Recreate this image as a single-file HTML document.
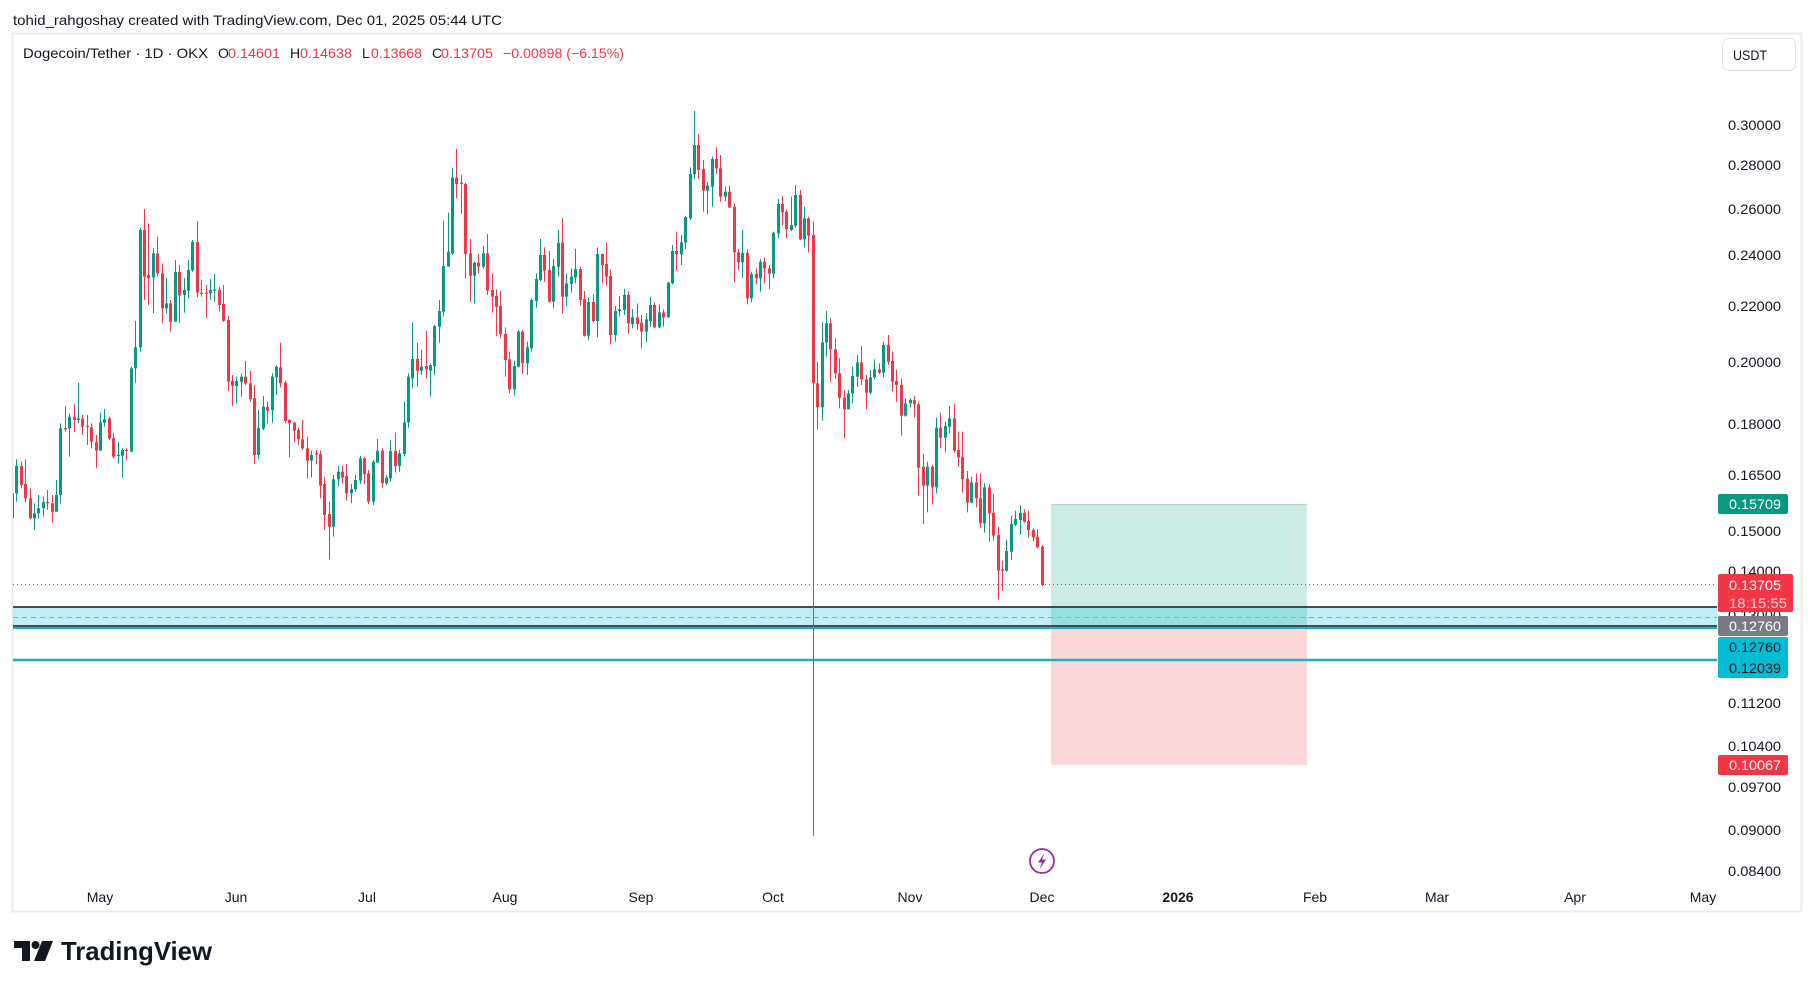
<!DOCTYPE html>
<html><head><meta charset="utf-8"><style>
html,body{margin:0;padding:0;background:#fff;}
svg{display:block;}
text{font-family:"Liberation Sans",Arial,sans-serif;}
</style></head><body>
<svg id="c" width="1815" height="989" viewBox="0 0 1815 989" xmlns="http://www.w3.org/2000/svg">
<defs>
<clipPath id="plot"><rect x="13" y="34" width="1704" height="877"/></clipPath>
<clipPath id="taxis"><rect x="13" y="870" width="1704" height="40"/></clipPath>
</defs>
<rect x="0" y="0" width="1815" height="989" fill="#fff"/>
<text x="13" y="25" font-size="14" fill="#131722" textLength="489" lengthAdjust="spacingAndGlyphs">tohid_rahgoshay created with TradingView.com, Dec 01, 2025 05:44 UTC</text>
<rect x="12.5" y="33.5" width="1789" height="878" fill="#fff" stroke="#ebebeb" stroke-width="2"/>

<!-- legend -->
<g font-size="14">
<text x="23" y="58" fill="#131722" textLength="185" lengthAdjust="spacingAndGlyphs">Dogecoin/Tether · 1D · OKX</text>
<text x="218" y="58" fill="#131722">O</text><text x="228" y="58" fill="#f23645" textLength="52" lengthAdjust="spacingAndGlyphs">0.14601</text>
<text x="290" y="58" fill="#131722">H</text><text x="300" y="58" fill="#f23645" textLength="52" lengthAdjust="spacingAndGlyphs">0.14638</text>
<text x="362" y="58" fill="#131722">L</text><text x="371" y="58" fill="#f23645" textLength="51" lengthAdjust="spacingAndGlyphs">0.13668</text>
<text x="432" y="58" fill="#131722">C</text><text x="441" y="58" fill="#f23645" textLength="52" lengthAdjust="spacingAndGlyphs">0.13705</text>
<text x="503" y="58" fill="#f23645" textLength="121" lengthAdjust="spacingAndGlyphs">−0.00898 (−6.15%)</text>
</g>

<!-- USDT box -->
<rect x="1722.5" y="38.5" width="73" height="32" rx="6" fill="#fff" stroke="#e0e3eb"/>
<text x="1733" y="60" font-size="14" fill="#131722" textLength="34" lengthAdjust="spacingAndGlyphs">USDT</text>

<g clip-path="url(#plot)">
<!-- position tool -->
<rect x="1051" y="504" width="256" height="122" fill="#cdebe5"/>
<line x1="1051" y1="504.5" x2="1307" y2="504.5" stroke="#a9d9d0" stroke-width="1"/>
<rect x="1051" y="626" width="256" height="139" fill="#fcd7da"/>
<!-- price line -->
<line x1="13" y1="584.5" x2="1717" y2="584.5" stroke="#f23645" stroke-width="1" stroke-dasharray="1 3"/>
<!-- band -->
<rect x="13" y="607" width="1704" height="19" fill="rgba(0,188,212,0.25)"/>
<line x1="13" y1="617.5" x2="1717" y2="617.5" stroke="#a3a6ae" stroke-width="1" stroke-dasharray="5 4"/>
<line x1="13" y1="628" x2="1717" y2="628" stroke="#22adc6" stroke-width="2"/>
<line x1="13" y1="607" x2="1717" y2="607" stroke="#131722" stroke-width="1.6"/>
<line x1="13" y1="626" x2="1717" y2="626" stroke="#131722" stroke-width="1.6"/>
<line x1="13" y1="660" x2="1717" y2="660" stroke="#22adc6" stroke-width="2.5"/>
<g id="candles"></g>
</g>

<!-- price axis labels -->
<g font-size="14" fill="#131722">
<text x="1728" y="130" textLength="53" lengthAdjust="spacingAndGlyphs">0.30000</text>
<text x="1728" y="170" textLength="53" lengthAdjust="spacingAndGlyphs">0.28000</text>
<text x="1728" y="214" textLength="53" lengthAdjust="spacingAndGlyphs">0.26000</text>
<text x="1728" y="260" textLength="53" lengthAdjust="spacingAndGlyphs">0.24000</text>
<text x="1728" y="311" textLength="53" lengthAdjust="spacingAndGlyphs">0.22000</text>
<text x="1728" y="367" textLength="53" lengthAdjust="spacingAndGlyphs">0.20000</text>
<text x="1728" y="429" textLength="53" lengthAdjust="spacingAndGlyphs">0.18000</text>
<text x="1728" y="480" textLength="53" lengthAdjust="spacingAndGlyphs">0.16500</text>
<text x="1728" y="536" textLength="53" lengthAdjust="spacingAndGlyphs">0.15000</text>
<text x="1728" y="576" textLength="53" lengthAdjust="spacingAndGlyphs">0.14000</text>
<text x="1728" y="620" textLength="53" lengthAdjust="spacingAndGlyphs">0.13000</text>
<text x="1728" y="708" textLength="53" lengthAdjust="spacingAndGlyphs">0.11200</text>
<text x="1728" y="751" textLength="53" lengthAdjust="spacingAndGlyphs">0.10400</text>
<text x="1728" y="792" textLength="53" lengthAdjust="spacingAndGlyphs">0.09700</text>
<text x="1728" y="835" textLength="53" lengthAdjust="spacingAndGlyphs">0.09000</text>
<text x="1728" y="876" textLength="53" lengthAdjust="spacingAndGlyphs">0.08400</text>
</g>

<!-- colored price labels -->
<rect x="1718" y="494" width="70" height="20" rx="2" fill="#089981"/>
<text x="1729" y="509" font-size="14" fill="#fff" textLength="52" lengthAdjust="spacingAndGlyphs">0.15709</text>
<rect x="1718" y="574" width="75" height="38" rx="2" fill="#f23645"/>
<text x="1729" y="590" font-size="14" fill="#fff" textLength="52" lengthAdjust="spacingAndGlyphs">0.13705</text>
<text x="1729" y="608" font-size="14" fill="#fcd0d4" textLength="58" lengthAdjust="spacingAndGlyphs">18:15:55</text>
<rect x="1718" y="616" width="70" height="20" rx="2" fill="#787b86"/>
<text x="1729" y="631" font-size="14" fill="#fff" textLength="52" lengthAdjust="spacingAndGlyphs">0.12760</text>
<rect x="1718" y="637" width="70" height="41" rx="2" fill="#00bcd4"/>
<text x="1729" y="652" font-size="14" fill="#131722" textLength="52" lengthAdjust="spacingAndGlyphs">0.12760</text>
<text x="1729" y="673" font-size="14" fill="#131722" textLength="52" lengthAdjust="spacingAndGlyphs">0.12039</text>
<rect x="1718" y="755" width="70" height="20" rx="2" fill="#f23645"/>
<text x="1729" y="770" font-size="14" fill="#fff" textLength="52" lengthAdjust="spacingAndGlyphs">0.10067</text>

<!-- lightning icon -->
<circle cx="1042" cy="861" r="12" fill="#fff" stroke="#9c27b0" stroke-width="1.8"/>
<path d="M1044.5,853 L1038,862.5 L1042,862.5 L1039.5,869.5 L1046,859.5 L1042,859.5 Z" fill="#9c27b0"/>

<!-- time axis -->
<g font-size="14" fill="#131722" text-anchor="middle" clip-path="url(#taxis)">
<text x="100" y="902">May</text>
<text x="236" y="902">Jun</text>
<text x="367" y="902">Jul</text>
<text x="505" y="902">Aug</text>
<text x="641" y="902">Sep</text>
<text x="773" y="902">Oct</text>
<text x="910" y="902">Nov</text>
<text x="1042" y="902">Dec</text>
<text x="1178" y="902" font-weight="bold">2026</text>
<text x="1315" y="902">Feb</text>
<text x="1437" y="902">Mar</text>
<text x="1575" y="902">Apr</text>
<text x="1703" y="902">May</text>
</g>

<!-- TradingView logo -->
<path d="M14,941 H30 V961 H22 V948 H14 Z" fill="#131722"/>
<circle cx="35.5" cy="945" r="4" fill="#131722"/>
<path d="M42,941 H53 L45,961 H34 Z" fill="#131722"/>
<text x="61" y="960" font-size="26" font-weight="bold" fill="#131722" textLength="151" lengthAdjust="spacingAndGlyphs">TradingView</text>
</svg>
<script>
(function(){
var S=[
[-20,190,[[1,910,985,905,985],[1,828,910,808,935],[0,828,885,815,895],[0,882,925,808,938],[0,925,985,895,988],[1,970,985,940,1020],[1,955,970,915,985],[1,937,955,920,980],[0,936,940,900,960],[0,940,965,915,998],[1,915,965,870,965],[1,715,915,700,940],[0,714,718,648,725],[1,680,715,670,800],[0,680,690,642,725],[1,685,690,578,700],[0,686,710,675,735],[0,708,711,675,765],[0,712,755,700,775],[0,757,782,735,835],
[1,697,782,668,782],[1,688,698,657,710],[0,685,745,680,750],[0,745,800,728,805],[1,795,797,755,820],[1,780,797,775,862],[0,780,782,775,810],[1,535,785,530,785],[1,472,535,393,578],[1,120,472,115,485],[0,120,260,57,330],[0,255,265,100,345],[1,190,262,175,370],[0,190,250,140,260],[0,250,355,220,400],[1,340,355,265,370],[0,340,395,330,425],[1,246,395,210,395],[0,246,317,225,398],[1,300,315,265,368],[1,240,302,210,325],[1,156,242,150,245],[0,156,308,93,322],[0,308,312,268,320],[0,308,310,285,383],[1,300,310,268,330],[1,298,302,252,335],[0,300,345,290,365],[0,342,393,285,395],[0,390,575,378,603],[0,573,587,555,648],
[1,573,588,560,640],[1,560,575,550,620],[0,560,580,513,585],[0,580,628,543,635],[0,624,795,585,822],[1,714,795,660,808],[1,650,716,618,720],[0,651,662,635,700]]],
[39,130,[[1,740,840,730,878],[1,710,742,705,795],[0,712,760,638,772],[0,758,873,752,880],[0,870,880,868,982],[0,878,902,875,935],[0,900,928,893,945],[0,928,955,870,960],[0,955,992,920,1045],[1,975,992,962,1042],[0,970,973,960,1003],[0,972,1067,962,1105],[0,1062,1155,1040,1200],[0,1152,1190,1115,1288],[1,1048,1190,1035,1220],[1,1025,1048,1008,1068],[0,1025,1042,1008,1060],[0,1038,1090,1002,1112],[1,1077,1090,1062,1120],[1,1050,1078,1035,1085],[1,985,1052,978,1062],[0,985,1033,980,1062],
[0,1030,1115,1020,1122],[1,995,1115,990,1125],[1,962,998,927,1000],[0,962,1060,955,1073],[1,1043,1060,1035,1065],[1,963,1045,930,1055],[0,963,1008,908,1028],[1,970,1008,960,1025],[1,877,972,815,980],[1,740,878,730,893],[1,687,745,578,775],[0,687,722,638,770],[1,710,722,660,735],[0,708,718,603,745],[1,705,722,700,800],[1,588,708,585,735],[1,543,590,510,638],[1,408,545,272,560],[1,365,410,248,410],[1,143,370,113,375],[0,143,162,57,205],[0,158,162,135,250],[0,162,372,158,445],[0,370,437,327,515],[1,398,437,395,520],[0,398,410,372,430],[1,370,410,348,415],[0,370,482,312,495],[0,480,500,430,548],[0,498,530,478,618],[0,528,612,483,625],
[0,612,690,592,740],[0,688,778,665,790],[1,708,778,692,797],[1,605,710,600,712],[0,605,700,600,732],[1,652,700,635,735],[1,510,655,505,665]]],
[99,95,[[1,552,618,535,638],[1,480,555,432,558],[0,480,527,457,560],[0,525,620,467,623],[1,513,620,492,640],[1,443,515,405,545],[0,443,605,370,655],[1,565,605,535,632],[1,545,567,520,593],[1,522,547,462,565],[0,522,615,515,632],[0,612,722,588,725],[1,621,722,608,735],[0,621,678,598,683],[1,477,678,457,727],[0,477,510,475,565],[0,507,545,443,572],[0,543,720,522,748],[1,648,720,633,740],[1,643,648,603,665],[1,600,645,582,660],[0,600,685,590,715],[1,667,687,642,700],[0,667,687,625,705],
[0,683,710,660,760],[1,673,710,655,742],[1,630,678,605,695],[0,630,697,622,700],[1,652,697,628,700],[0,652,667,643,695],[1,563,667,560,668],[1,468,565,450,568],[0,468,478,410,527],[1,442,478,420,510],[1,366,442,363,462],[1,237,370,217,375],[1,150,238,48,252],[0,150,225,118,252],[0,222,287,195,350],[1,272,287,262,358],[1,192,275,185,335],[0,192,220,157,237],[0,220,305,180,320],[1,290,305,275,318],[0,290,338,272,338],[0,336,472,325,562],[0,472,502,462,525],[1,474,502,405,548],[0,474,610,462,628],[1,537,610,530,622],[0,537,550,520,568],[1,500,550,492,590],[0,500,520,488,565],[0,520,536,510,582],
[1,413,536,410,550],[1,327,415,312,430],[0,327,352,303,390],[0,350,402,342,430],[1,390,405,305,408],[1,300,392,270,398]]],
[159,170,[[0,75,208,60,210],[1,145,208,110,232],[0,145,197,140,248],[0,195,640,155,1998],[0,640,712,575,778],[1,517,712,457,752],[1,460,517,423,560],[0,460,538,445,635],[0,538,610,505,627],[0,610,683,565,715],[0,683,718,660,805],[1,670,718,660,718],[1,618,670,590,700],[1,577,620,555,650],[0,577,628,528,645],[0,628,668,615,718],[1,622,668,600,672],[1,598,622,568,628],[0,598,608,580,612],[1,525,608,515,622],[0,525,575,495,585],[0,573,635,545,665],[0,633,645,600,695],[0,645,737,625,797],[1,700,737,685,740],
[1,690,700,685,712],[0,690,703,678,742],[0,703,893,698,977],[0,890,947,852,1062],[1,890,947,875,1027],[0,890,952,885,1003],[1,773,952,743,970],[0,773,803,728,835],[1,768,803,755,847],[1,745,770,708,790],[0,745,842,702,848],[0,840,862,785,890],[0,860,928,785,968],[0,926,998,903,1027],[1,937,998,920,1000],[0,937,985,910,1012],[0,985,1060,910,1075],[1,952,1060,940,1088],[0,952,1030,942,1115],[0,1028,1097,972,1112],[0,1095,1202,1070,1288],[0,1198,1202,1172,1262],[1,1143,1202,1110,1205],[1,1062,1145,1038,1170],[1,1047,1064,1022,1068],[1,1028,1050,1005,1095],[0,1028,1055,1018,1058],[0,1053,1080,1022,1102],[0,1080,1102,1075,1115],[0,1100,1132,1078,1135],[0,1130,1245,1125,1248]]]
];
var NS="http://www.w3.org/2000/svg",g=document.getElementById("candles");
function r(x,y,w,h,f){var e=document.createElementNS(NS,"rect");e.setAttribute("x",x);e.setAttribute("y",y);e.setAttribute("width",w);e.setAttribute("height",Math.max(h,1));e.setAttribute("fill",f);g.appendChild(e);}
S.forEach(function(s){var d0=s[0],oy=s[1];s[2].forEach(function(c,i){
var d=d0+i,xi=Math.round(100+4.4*d),col=c[0]?"#089981":"#f23645";
var bt=oy+c[1]/3,bb=oy+c[2]/3,wt=oy+c[3]/3,wb=oy+c[4]/3;
r(xi,wt,1,wb-wt,col);r(xi-1,bt,3,bb-bt,col);});});
})();
</script>
</body></html>
